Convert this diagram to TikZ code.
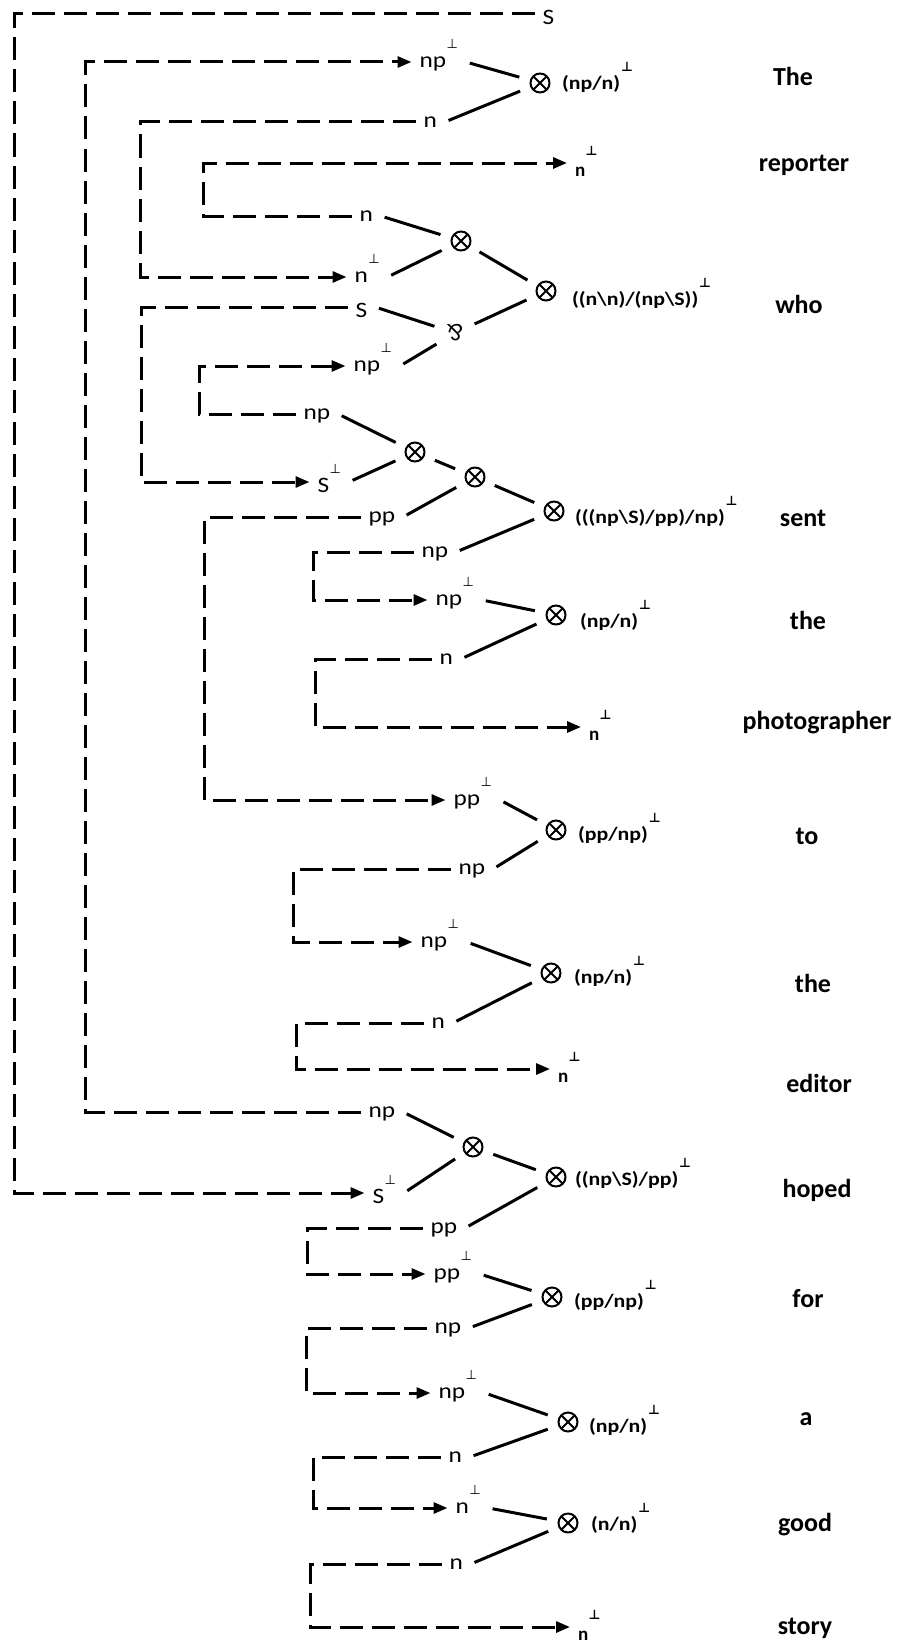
\documentclass[tikz,border=0pt]{standalone}
\usepackage{fontspec}
\setmainfont{Carlito}
\newfontfamily\djv{DejaVu Sans}
\newfontfamily\wide[FakeStretch=1.15]{Carlito}
\usetikzlibrary{arrows.meta}
\newcommand\perpu[1]{\raisebox{#1}{\djv\fontsize{13}{13}\selectfont ⊥}}
\newcommand\lt[1]{\raisebox{-3pt}{#1}}
\newcommand\lp{\kern0.5pt\perpu{19pt}}
\newcommand\tp{\kern1pt\perpu{18pt}}
\newcommand\bn{\raisebox{-11pt}{n\kern0.5pt\perpu{21pt}}}
\newcommand\sS{\raisebox{-8.5pt}{S}}
\newcommand\sSp{\raisebox{-8.5pt}{S\lp}}
\begin{document}
\begin{tikzpicture}[x=1pt,y=-1pt,
 lbl/.style={font=\wide\fontsize{22}{22}\selectfont, inner sep=2pt, outer sep=6pt, anchor=mid west},
 bnl/.style={font=\bfseries\fontsize{19}{19}\selectfont, inner sep=2pt, outer sep=6pt, anchor=mid west},
 typ/.style={font=\wide\bfseries\fontsize{19}{19}\selectfont, inner sep=0pt, outer sep=0pt, anchor=base west},
 word/.style={font=\bfseries\fontsize{26}{26}\selectfont, inner sep=0pt},
 ot/.style={circle, draw, line width=2pt, minimum size=19pt, inner sep=0pt, outer sep=12pt,
   path picture={\draw[line width=2pt] (path picture bounding box.north west) -- (path picture bounding box.south east)
     (path picture bounding box.north east) -- (path picture bounding box.south west);}},
 parn/.style={circle, minimum size=20pt, inner sep=0pt, outer sep=10pt, font=\fontsize{24}{24}\selectfont},
 dsh/.style={line width=3pt, dash pattern=on 23pt off 9pt},
 arr/.style={dsh, -{Triangle[length=14pt,width=11pt]}},
 tree/.style={line width=3pt, shorten <=4pt},
 otree/.style={line width=3pt},
]
\useasboundingbox[fill=white] (0,0) rectangle (898,1643);

% tensor / par nodes
\node[ot] (x1) at (540,83) {};
\node[ot] (w1) at (461,241) {};
\node[ot] (w2) at (546,291) {};
\node[parn] (p1) at (455,333) {\rotatebox{180}{\&}};
\node[ot] (s1) at (415,452) {};
\node[ot] (s2) at (475,477) {};
\node[ot] (s3) at (554,511) {};
\node[ot] (h1) at (556,615) {};
\node[ot] (o1) at (556,830) {};
\node[ot] (h2) at (551,973) {};
\node[ot] (q1) at (473,1147) {};
\node[ot] (q2) at (556,1177) {};
\node[ot] (f1) at (552,1297) {};
\node[ot] (y1) at (568,1422) {};
\node[ot] (g1) at (568,1523) {};

% type labels
\node[typ] (t1) at (562,90) {(np/n)\tp};
\node[typ] (t2) at (572,305) {((n\textbackslash n)/(np\textbackslash S))\tp};
\node[typ] (t3) at (575,523) {(((np\textbackslash S)/pp)/np)\tp};
\node[typ] (t4) at (580,627) {(np/n)\tp};
\node[typ] (t5) at (578,840) {(pp/np)\tp};
\node[typ] (t6) at (574,983) {(np/n)\tp};
\node[typ] (t7) at (575,1185) {((np\textbackslash S)/pp)\tp};
\node[typ] (t8) at (574,1307) {(pp/np)\tp};
\node[typ] (t9) at (589,1432) {(np/n)\tp};
\node[typ] (t10) at (591,1530) {(n/n)\tp};

% words
\node[word] (wd1) at (793,76) {The};
\node[word] (wd2) at (804,165) {reporter};
\node[word] (wd3) at (799,304) {who};
\node[word] (wd4) at (803,518) {sent};
\node[word] (wd5) at (808,620) {the};
\node[word] (wd6) at (817,723) {photographer};
\node[word] (wd7) at (807,836) {to};
\node[word] (wd8) at (813,983) {the};
\node[word] (wd9) at (819,1083) {editor};
\node[word] (wd10) at (817,1190) {hoped};
\node[word] (wd11) at (808,1299) {for};
\node[word] (wd12) at (806,1419) {a};
\node[word] (wd13) at (805,1525) {good};
\node[word] (wd14) at (805,1628) {story};

% atom labels
\node[lbl] (lS0) at (534.5,14) {\sS};
\node[lbl] (lA1) at (411.5,62) {\lt{np\lp}};
\node[lbl] (lA2) at (415.5,122) {\lt{n}};
\node[bnl] (nR) at (567,163) {\bn};
\node[lbl] (lB1) at (351.5,216) {\lt{n}};
\node[lbl] (lB2) at (346.5,277) {\lt{n\lp}};
\node[lbl] (lB3) at (347.5,307) {\sS};
\node[lbl] (lB4) at (345.5,366) {\lt{np\lp}};
\node[lbl] (lC1) at (295.5,414) {\lt{np}};
\node[lbl] (lC2) at (309.5,482) {\sSp};
\node[lbl] (lC3) at (360.5,517) {\lt{pp}};
\node[lbl] (lC4) at (413.5,552) {\lt{np}};
\node[lbl] (lD1) at (427.5,600) {\lt{np\lp}};
\node[lbl] (lD2) at (431.5,659) {\lt{n}};
\node[bnl] (nP) at (581,727) {\bn};
\node[lbl] (lE1) at (445.5,800) {\lt{pp\lp}};
\node[lbl] (lE2) at (450.5,869) {\lt{np}};
\node[lbl] (lF1) at (412.5,942) {\lt{np\lp}};
\node[lbl] (lF2) at (423.5,1023) {\lt{n}};
\node[bnl] (nE) at (550,1069) {\bn};
\node[lbl] (lG1) at (360.5,1112) {\lt{np}};
\node[lbl] (lG2) at (364.5,1193) {\sSp};
\node[lbl] (lG3) at (422.5,1228) {\lt{pp}};
\node[lbl] (lH1) at (425.5,1274) {\lt{pp\lp}};
\node[lbl] (lH2) at (426.5,1328) {\lt{np}};
\node[lbl] (lI1) at (430.5,1393) {\lt{np\lp}};
\node[lbl] (lI2) at (440.5,1457) {\lt{n}};
\node[lbl] (lJ1) at (447.5,1508) {\lt{n\lp}};
\node[lbl] (lJ2) at (441.5,1564) {\lt{n}};
\node[bnl] (nS) at (570,1627) {\bn};

% corner coordinates of the axiom links
\coordinate (k1) at (14,600);
\coordinate (k2) at (85,600);
\coordinate (k3) at (140,200);
\coordinate (k4) at (203,190);
\coordinate (k5) at (141,400);
\coordinate (k6) at (199,390);
\coordinate (k7) at (204,650);
\coordinate (k8) at (313,576);
\coordinate (k9) at (315,690);
\coordinate (k10) at (293,900);
\coordinate (k11) at (296,1045);
\coordinate (k12) at (307,1250);
\coordinate (k13) at (306,1360);
\coordinate (k14) at (313,1480);
\coordinate (k15) at (310,1600);

% axiom links
\draw[arr] (lS0.mid west) -| (k1) |- (lG2.mid west);
\draw[arr] (lG1.mid west) -| (k2) |- (lA1.mid west);
\draw[arr] (lA2.mid west) -| (k3) |- (lB2.mid west);
\draw[arr] (lB1.mid west) -| (k4) |- (nR.mid west);
\draw[arr] (lB3.mid west) -| (k5) |- (lC2.mid west);
\draw[arr] (lC1.mid west) -| (k6) |- (lB4.mid west);
\draw[arr] (lC3.mid west) -| (k7) |- (lE1.mid west);
\draw[arr] (lC4.mid west) -| (k8) |- (lD1.mid west);
\draw[arr] (lD2.mid west) -| (k9) |- (nP.mid west);
\draw[arr] (lE2.mid west) -| (k10) |- (lF1.mid west);
\draw[arr] (lF2.mid west) -| (k11) |- (nE.mid west);
\draw[arr] (lG3.mid west) -| (k12) |- (lH1.mid west);
\draw[arr] (lH2.mid west) -| (k13) |- (lI1.mid west);
\draw[arr] (lI2.mid west) -| (k14) |- (lJ1.mid west);
\draw[arr] (lJ2.mid west) -| (k15) |- (nS.mid west);

% proof-net edges
\draw[tree] (lA1.mid east) -- (x1);
\draw[tree] (lA2.mid east) -- (x1);
\draw[tree] (lB1.mid east) -- (w1);
\draw[tree] (lB2.mid east) -- (w1);
\draw[otree] (w1) -- (w2);
\draw[tree] (lB3.mid east) -- (p1);
\draw[tree] (lB4.mid east) -- (p1);
\draw[otree] (p1) -- (w2);
\draw[tree] (lC1.mid east) -- (s1);
\draw[tree] (lC2.mid east) -- (s1);
\draw[otree] (s1) -- (s2);
\draw[tree] (lC3.mid east) -- (s2);
\draw[otree] (s2) -- (s3);
\draw[tree] (lC4.mid east) -- (s3);
\draw[tree] (lD1.mid east) -- (h1);
\draw[tree] (lD2.mid east) -- (h1);
\draw[tree] (lE1.mid east) -- (o1);
\draw[tree] (lE2.mid east) -- (o1);
\draw[tree] (lF1.mid east) -- (h2);
\draw[tree] (lF2.mid east) -- (h2);
\draw[tree] (lG1.mid east) -- (q1);
\draw[tree] (lG2.mid east) -- (q1);
\draw[otree] (q1) -- (q2);
\draw[tree] (lG3.mid east) -- (q2);
\draw[tree] (lH1.mid east) -- (f1);
\draw[tree] (lH2.mid east) -- (f1);
\draw[tree] (lI1.mid east) -- (y1);
\draw[tree] (lI2.mid east) -- (y1);
\draw[tree] (lJ1.mid east) -- (g1);
\draw[tree] (lJ2.mid east) -- (g1);
\end{tikzpicture}
\end{document}
